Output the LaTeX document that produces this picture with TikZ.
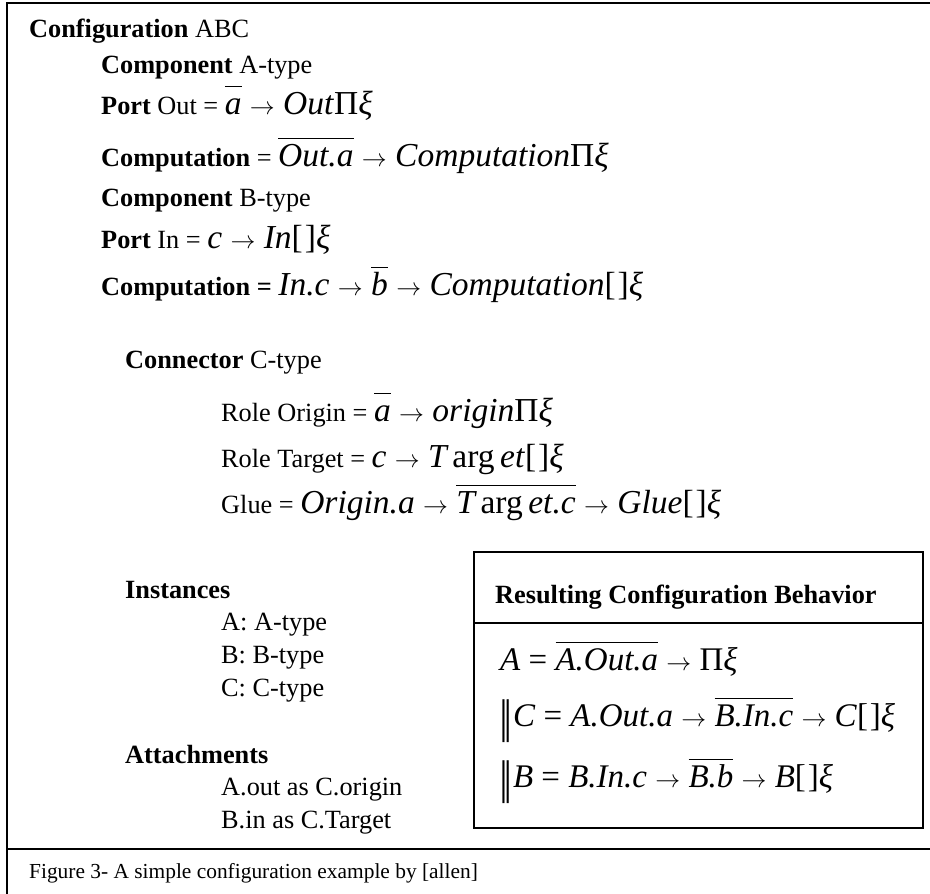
\documentclass[tikz,border=0pt]{standalone}
\usepackage{fontspec}
\usepackage{graphicx}
\setmainfont{Liberation Serif}
\newfontfamily\djv{DejaVu Serif}
\newcommand\arr{\hspace{0.25em}$\rightarrow$\hspace{0.25em}}
\newcommand\ov[1]{$\overline{\hbox{\rule{0pt}{0.8em}#1}}$}
\newcommand\mt[1]{{\fontsize{33.5}{40}\selectfont\itshape #1}}
\newcommand\mb[1]{{\fontsize{33}{40}\selectfont\itshape #1}}
\newcommand\up[1]{\textup{#1}}
\newcommand\brk{\up{[\kern0.06em]}}
\newcommand\dbar{\raisebox{-0.2em}{\scalebox{0.8}[1.3]{\djv\upshape ‖}}\kern0.02em}
\begin{document}
\begin{tikzpicture}[x=1pt,y=-1pt,
  txt/.style={anchor=base west,inner sep=0pt,font=\fontsize{26.3}{31}\selectfont},
  captxt/.style={anchor=base west,inner sep=0pt,font=\fontsize{21.4}{25}\selectfont},
  frame/.style={line width=1.5pt}]
\useasboundingbox (0,0) rectangle (930,894);
% outer frame
\draw[frame] (940,3) -- (7,3) -- (7,900);
\draw[frame] (7,849) -- (940,849);
% header text
\node[txt] (l1) at (29,37) {\textbf{Configuration} ABC};
\node[txt] (l2) at (101,73) {\textbf{Component} A-type};
\node[txt] (l3) at (101,114) {\textbf{Port} Out = \mt{\ov{a}\arr Out\up{Π}ξ}};
\node[txt] (l4) at (101,166) {\textbf{Computation} = \mt{\ov{Out.a}\arr Computation\up{Π}ξ}};
\node[txt] (l5) at (101,206) {\textbf{Component} B-type};
\node[txt] (l6) at (101,248) {\textbf{Port} In = \mt{c\arr In\brk ξ}};
\node[txt] (l7) at (101,295) {\textbf{Computation =} \mt{In.c\arr\ov{b}\arr Computation\brk ξ}};
\node[txt] (l8) at (125,368) {\textbf{Connector} C-type};
\node[txt] (l9) at (221,421) {Role Origin = \mt{\ov{a}\arr origin\up{Π}ξ}};
\node[txt] (l10) at (221,467) {Role Target = \mt{c\arr T\,\up{arg}\,et\brk ξ}};
\node[txt] (l11) at (221,513) {Glue = \mt{Origin.a\arr\ov{T\,\up{arg}\,et.c}\arr Glue\brk ξ}};
% instances & attachments
\node[txt] (i0) at (125,598) {\textbf{Instances}};
\node[txt] (i1) at (221,630) {A: A-type};
\node[txt] (i2) at (221,663) {B: B-type};
\node[txt] (i3) at (221,696) {C: C-type};
\node[txt] (a0) at (125,763) {\textbf{Attachments}};
\node[txt] (a1) at (221,795) {A.out as C.origin};
\node[txt] (a2) at (221,828) {B.in as C.Target};
% caption
\node[captxt] (capt) at (29,878) {Figure 3- A simple configuration example by [allen]};
% result box
\draw[frame] (474,552) rectangle (923,828);
\draw[frame] (474,623) -- (923,623);
\node[txt] (rt) at (495,603) {\textbf{Resulting Configuration Behavior}};
\node[txt] (r1) at (500,670) {\mb{A \up{=} \ov{A.Out.a}\arr\up{Π}ξ}};
\node[txt] (r2) at (499,726) {\mb{\dbar C \up{=} A.Out.a\arr\ov{B.In.c}\arr C\brk ξ}};
\node[txt] (r3) at (499,787) {\mb{\dbar B \up{=} B.In.c\arr\ov{B.b}\arr B\brk ξ}};
\end{tikzpicture}
\end{document}
